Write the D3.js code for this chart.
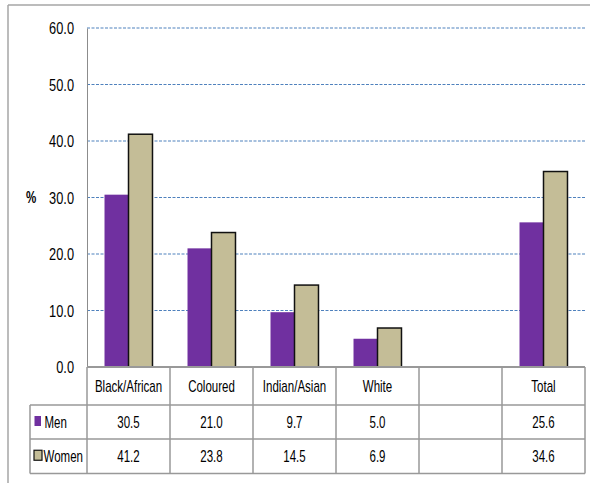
<!DOCTYPE html>
<html><head><meta charset="utf-8">
<script src="https://cdn.jsdelivr.net/npm/d3@7"></script>
<style>
html,body{margin:0;padding:0;background:#fff;}
svg{display:block;font-family:"Liberation Sans",Arial,sans-serif;}
</style></head>
<body>
<svg id="chart" width="590" height="483"></svg>
<script>
const categories = ["Black/African","Coloured","Indian/Asian","White","","Total"];
const seriesNames = ["Men","Women"];
const menValues = [30.5, 21.0, 9.7, 5.0, null, 25.6];
const womenValues = [41.2, 23.8, 14.5, 6.9, null, 34.6];
const yTicks = [0,10,20,30,40,50,60];
const colors = {Men:"#7030a0", Women:"#c4bd97"};

(function(){
const SX = 0.72, FS = 16, SXY = 0.8;
const svg = d3.select("#chart");
const pLeft = 87, pRight = 585, pTop = 28, pBottom = 367;
const rowH = [pBottom, 405, 439, 473.5];
const tableLeft = 30;

function label(g, x, y, txt, anchor, extra){
  const t = g.append("text")
    .attr("transform",`translate(${x},${y}) scale(${SX},1)`)
    .attr("text-anchor",anchor||"start")
    .attr("font-size",FS).attr("fill","#000").text(txt);
  if(extra) extra(t);
  return t;
}

// outer frame
svg.append("line").attr("x1",8).attr("x2",590).attr("y1",5).attr("y2",5).attr("stroke","#a6a6a6").attr("stroke-width",1.5);
svg.append("line").attr("x1",8).attr("x2",8).attr("y1",5).attr("y2",483).attr("stroke","#a6a6a6").attr("stroke-width",1.5);

const x = d3.scaleBand().domain(categories.map((c,i)=>i)).range([pLeft,pRight]).padding(0);
const xSub = d3.scaleBand().domain(seriesNames).range([0,x.bandwidth()]).paddingInner(0).paddingOuter(0.73);
const y = d3.scaleLinear().domain([0,60]).range([pBottom,pTop]);

// gridlines
svg.append("g").selectAll("line").data(yTicks.filter(t=>t>0)).join("line")
  .attr("x1",pLeft).attr("x2",pRight)
  .attr("y1",d=>y(d)).attr("y2",d=>y(d))
  .attr("stroke","#4f81bd").attr("stroke-width",1.2).attr("stroke-dasharray","3,1.5");

// y axis
const yAxis = d3.axisLeft(y).tickValues(yTicks).tickFormat(d3.format(".1f")).tickSize(0).tickPadding(13);
const gy = svg.append("g").attr("transform",`translate(${pLeft},0)`).call(yAxis);
gy.attr("font-family",null).attr("font-size",null);
gy.select(".domain").attr("stroke","#8c8c8c").attr("stroke-width",1);
gy.selectAll(".tick text").attr("font-size",FS).attr("fill","#000")
  .attr("x",-13/SXY).attr("dy","0.36em").attr("transform",`scale(${SXY},1)`);

label(svg, 26, y(30)+5.5, "%", "start", t=>t.attr("font-weight","bold"));

// bars
const data = [];
categories.forEach((c,i)=>{
  [["Men",menValues[i]],["Women",womenValues[i]]].forEach(([s,v])=>{ if(v!=null) data.push({i,s,v}); });
});
svg.append("g").selectAll("rect").data(data).join("rect")
  .attr("x",d=>x(d.i)+xSub(d.s))
  .attr("width",xSub.bandwidth())
  .attr("y",d=>y(d.v))
  .attr("height",d=>y(0)-y(d.v))
  .attr("fill",d=>colors[d.s])
  .attr("stroke",d=>d.s==="Women"?"#111":"none")
  .attr("stroke-width",1.5);

// table
const tg = svg.append("g");
const tcol = "#999999";
tg.append("line").attr("x1",pLeft).attr("x2",pRight).attr("y1",rowH[0]).attr("y2",rowH[0]).attr("stroke",tcol).attr("stroke-width",1.8);
[rowH[1],rowH[2],rowH[3]].forEach(yy=>{
  tg.append("line").attr("x1",tableLeft).attr("x2",pRight).attr("y1",yy).attr("y2",yy).attr("stroke",tcol).attr("stroke-width",1.5);
});
const bounds = categories.map((c,i)=>x(i)).concat([pRight]);
bounds.forEach(bx=>{
  tg.append("line").attr("x1",bx).attr("x2",bx).attr("y1",rowH[0]).attr("y2",rowH[3]).attr("stroke",tcol).attr("stroke-width",1.5);
});
tg.append("line").attr("x1",tableLeft).attr("x2",tableLeft).attr("y1",rowH[1]).attr("y2",rowH[3]).attr("stroke",tcol).attr("stroke-width",1.5);

categories.forEach((c,i)=>{
  label(tg, x(i)+x.bandwidth()/2, (rowH[0]+rowH[1])/2+6, c, "middle");
});

const rows = [["Men",menValues],["Women",womenValues]];
rows.forEach(([name,vals],r)=>{
  const yc = (rowH[r+1]+rowH[r+2])/2;
  vals.forEach((v,i)=>{
    if(v==null) return;
    label(tg, x(i)+x.bandwidth()/2, yc+6, d3.format(".1f")(v), "middle");
  });
  tg.append("rect").attr("x",name==="Men"?34.5:34).attr("y",yc-6).attr("width",name==="Men"?6.5:8).attr("height",10)
    .attr("fill",colors[name]).attr("stroke",name==="Women"?"#111":"none").attr("stroke-width",1.2);
  label(tg, name==="Men"?44.5:43.5, yc+6, name, "start");
});
})();
</script>
</body></html>
